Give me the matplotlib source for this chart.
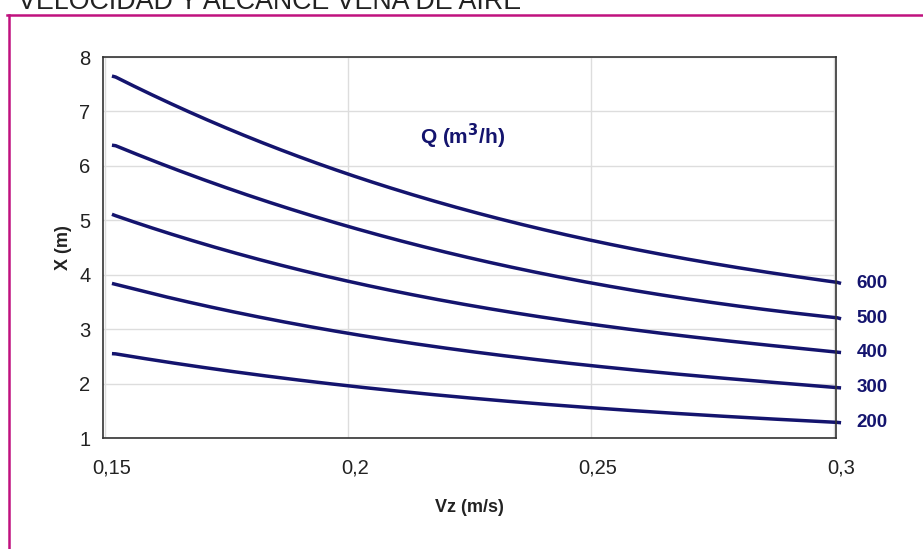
import numpy as np
import matplotlib
matplotlib.use("Agg")
import matplotlib.pyplot as plt
import matplotlib.transforms as mtrans

# velocidad Vz (m/s) y alcance X (m) por caudal Q (m3/h)
vz = [0.15, 0.175, 0.2, 0.225, 0.25, 0.275, 0.3]
caudales = ["600", "500", "400", "300", "200"]
x_600 = [7.65, 6.68, 5.80, 5.09, 4.63, 4.20, 3.84]
x_500 = [6.38, 5.60, 4.83, 4.25, 3.84, 3.49, 3.19]
x_400 = [5.11, 4.40, 3.86, 3.42, 3.06, 2.81, 2.57]
x_300 = [3.84, 3.32, 2.90, 2.58, 2.31, 2.11, 1.92]
x_200 = [2.55, 2.24, 1.93, 1.72, 1.55, 1.41, 1.28]
x_ticks = [0.15, 0.2, 0.25, 0.3]
x_ticklabels = ["0,15", "0,2", "0,25", "0,3"]

plt.rcParams['font.family'] = ['Liberation Sans', 'DejaVu Sans']
navy = "#14146e"
txt = "#222222"

fig = plt.figure(figsize=(9.23, 5.49), dpi=100)

# magenta frame and cut-off title
fig.add_artist(plt.Line2D([8.5/923, 8.5/923], [0, 1 - 14.5/549], color="#c0117e", lw=1.8))
fig.add_artist(plt.Line2D([7.5/923, 1], [1 - 14.5/549, 1 - 14.5/549], color="#c0117e", lw=1.8))
fig.text(18/923, 1 - 9/549, "VELOCIDAD Y ALCANCE VENA DE AIRE", fontsize=19.3,
         ha="left", va="baseline", color=txt)

ax = fig.add_axes([103/923, 1 - 438/549, 733/923, 381/549])

# the series and tick labels sit a few pixels right of the grid in the original
shift = mtrans.ScaledTranslation(7/100, 0, fig.dpi_scale_trans)

xs = np.linspace(vz[0], vz[-1], 200)
for series, name in zip([x_600, x_500, x_400, x_300, x_200], caudales):
    coef = np.polyfit(vz, series, 3)
    ys = np.polyval(coef, xs)
    ys[0], ys[-1] = series[0], series[-1]
    ax.plot(xs, ys, color=navy, lw=2.5, solid_capstyle="butt", clip_on=False,
            transform=ax.transData + shift)
    ax.annotate(name, xy=(vz[-1], series[-1]), xycoords=ax.transData + shift,
                xytext=(11, 0), textcoords="offset points", color=navy,
                fontsize=13.5, fontweight="bold", ha="left", va="center")

ax.text(0.2235, 6.55, r"Q (m$^{\mathbf{3}}$/h)", color=navy, fontsize=15,
        fontweight="bold", ha="center", va="center")

ax.set_xlim(0.1496, 0.3004)
ax.set_ylim(1, 8)
ax.set_xticks(x_ticks)
ax.set_xticklabels(x_ticklabels)
ax.set_yticks(range(1, 9))
ax.tick_params(length=0, labelsize=14.5, colors=txt)
ax.tick_params(axis="x", pad=15)
ax.tick_params(axis="y", pad=9)
for lbl in ax.get_xticklabels():
    lbl.set_transform(lbl.get_transform() + shift)
ax.grid(True, color="#dddddd", lw=1)
ax.set_axisbelow(True)
for sp in ax.spines.values():
    sp.set_color("#333333")
    sp.set_linewidth(1.2)

ax.set_xlabel("Vz (m/s)", fontsize=13, fontweight="bold", labelpad=15, color=txt)
ax.set_ylabel("X (m)", fontsize=13, fontweight="bold", labelpad=5, color=txt)

fig.savefig("out.png", dpi=100)
